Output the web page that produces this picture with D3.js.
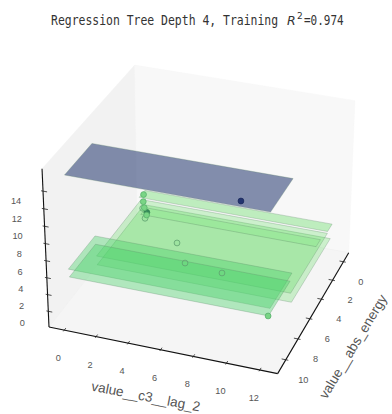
<!DOCTYPE html>
<html>
<head>
<meta charset="utf-8">
<script src="https://cdn.jsdelivr.net/npm/d3@7"></script>
<style>
body { margin: 0; background: #fff; }
text { font-family: "Liberation Sans", Arial, sans-serif; fill: #555; }
</style>
</head>
<body>
<div id="chart"></div>
<script>
var width = 392, height = 414;

// tree leaves, one flat plane per leaf
var planeNames = ["top", "strip", "mid1", "mid2", "band", "low1", "low2"];
var planeX0 = [6.74, 4.97, 4.70, 3.93, 4.61, 5.09, 5.10];
var planeX1 = [10.26, 5.75, 10.77, 10.40, 5.35, 8.67, 8.62];
var planeY0 = [-0.15, 2.29, 1.92, 1.76, 2.18, -0.95, -0.93];
var planeY1 = [12.08, 13.87, 13.52, 13.45, 13.08, 11.57, 11.47];
var planeZ = [15, 8.5, 7, 5.5, 6, 2, 1];

// training points that show only as rings
var ringX = [6.05, 5.53, 7.42, 8.35, 7.08];
var ringY = [2.77, 2.39, 5.37, 6.26, 8.01];
var ringZ = [6.5, 7, 6, 5, 3];

// training points drawn over the planes
var overX = [5.81, 5.69, 5.85, 6.11, 8.63];
var overY = [2.59, 2.51, 2.64, 2.90, 11.45];
var overZ = [9, 8, 7.5, 7, 1];

var topX = [9.73, 5.85], topY = [10.16, 2.80], topZ = [15, 7];

var xTicks = [0, 2, 4, 6, 8, 10];
var yTicks = [0, 2, 4, 6, 8, 10, 12];
var zTicks = [0, 2, 4, 6, 8, 10, 12, 14];

var xDomain = [-1, 11.3], yDomain = [-0.97, 13.06], zDomain = [-1.9, 16.5];

// box size and camera as in a matplotlib 3d axes, elev 30 azim 20
var boxX = 1.143, boxY = 1.143, boxZ = 0.8573, dist = 10;
var focal = 2088, centerX = 203.2, centerY = 212.9;

var x = d3.scaleLinear().domain(xDomain).range([-boxX / 2, boxX / 2]);
var y = d3.scaleLinear().domain(yDomain).range([-boxY / 2, boxY / 2]);
var z = d3.scaleLinear().domain(zDomain).range([-boxZ / 2, boxZ / 2]);

var elev = 30 * Math.PI / 180, azim = 20 * Math.PI / 180;
var n = [Math.cos(elev) * Math.cos(azim), Math.cos(elev) * Math.sin(azim), Math.sin(elev)];
var u = [-Math.sin(azim), Math.cos(azim), 0];
var v = [-n[2] * u[1], n[2] * u[0], n[0] * u[1] - n[1] * u[0]];

function dot(a, b) { return a[0] * b[0] + a[1] * b[1] + a[2] * b[2]; }

function project(px, py, pz) {
    var p = [x(px), y(py), z(pz)];
    var d = dist - dot(p, n);
    return [centerX + focal * dot(p, u) / d, centerY - focal * dot(p, v) / d];
}

var line = d3.line();

var svg = d3.select("#chart")
    .append("svg")
        .attr("width", width)
        .attr("height", height)
        .style("display", "block");

function poly(corners, fill, stroke, strokeWidth) {
    svg.append("path")
        .attr("d", line(corners) + "Z")
        .attr("fill", fill)
        .attr("stroke", stroke)
        .attr("stroke-width", strokeWidth);
}

var x0 = xDomain[0], x1 = xDomain[1], y0 = yDomain[0], y1 = yDomain[1], z0 = zDomain[0], z1 = zDomain[1];

// panes
poly([project(x0, y0, z0), project(x1, y0, z0), project(x1, y0, z1), project(x0, y0, z1)], "#f2f2f2", "#f2f2f2", 0.5);
poly([project(x0, y0, z0), project(x0, y1, z0), project(x0, y1, z1), project(x0, y0, z1)], "#f8f8f8", "#f6f6f6", 0.5);
poly([project(x0, y0, z0), project(x1, y0, z0), project(x1, y1, z0), project(x0, y1, z0)], "#f5f5f5", "#efefef", 0.6);

function plane(i, fill) {
    poly([
        project(planeX0[i], planeY0[i], planeZ[i]),
        project(planeX0[i], planeY1[i], planeZ[i]),
        project(planeX1[i], planeY1[i], planeZ[i]),
        project(planeX1[i], planeY0[i], planeZ[i])
    ], fill, "rgba(90,130,100,0.4)", 0.7);
}

function points(xs, ys, zs, fill, stroke) {
    svg.append("g").selectAll("circle")
        .data(xs)
        .join("circle")
            .attr("cx", function(d, i) { return project(xs[i], ys[i], zs[i])[0]; })
            .attr("cy", function(d, i) { return project(xs[i], ys[i], zs[i])[1]; })
            .attr("r", 2.9)
            .attr("fill", fill)
            .attr("stroke", stroke)
            .attr("stroke-width", 0.8);
}

plane(0, "rgba(32,52,110,0.55)");
points(topX, topY, topZ, "#23346f", "#1c2a5c");

plane(1, "rgba(72,217,72,0.33)");
[3, 2].forEach(function(i) { plane(i, "rgba(72,217,72,0.25)"); });
plane(4, "rgba(72,217,72,0.14)");
[5, 6].forEach(function(i) { plane(i, "rgba(72,210,105,0.4)"); });

points(ringX, ringY, ringZ, "rgba(120,220,130,0.2)", "#5f9f70");
points(overX, overY, overZ, "#79d585", "#58b06c");

// axes
function axisLine(a, b) {
    svg.append("path")
        .attr("d", line([a, b]))
        .attr("stroke", "#111")
        .attr("stroke-width", 1.1)
        .attr("fill", "none");
}
axisLine(project(x1, y0, z1), project(x1, y0, z0));
axisLine(project(x1, y0, z0), project(x1, y1, z0));
axisLine(project(x1, y1, z0), project(x0, y1, z0));

function tick(a, b) {
    svg.append("path")
        .attr("d", line([a, b]))
        .attr("stroke", "#222")
        .attr("stroke-width", 0.8);
}

function label(str, pos, dx, dy) {
    svg.append("text")
        .attr("x", pos[0] + dx)
        .attr("y", pos[1] + dy)
        .attr("text-anchor", "middle")
        .attr("font-size", 9.2)
        .text(str);
}

xTicks.forEach(function(d) {
    tick(project(d, y1 - 0.25, z0), project(d, y1 + 0.15, z0));
    label(d, project(d, y1, z0), 17.5, 23);
});
yTicks.forEach(function(d) {
    tick(project(x1 - 0.2, d, z0), project(x1 + 0.12, d, z0));
    label(d, project(x1, d, z0), -6, 31);
});
zTicks.forEach(function(d) {
    tick(project(x1, y0 - 0.12, d), project(x1, y0 + 0.25, d));
    label(d, project(x1, y0, d), d >= 10 ? -27 : -26, 15 - d * 0.18);
});

// axis titles
svg.append("text")
    .attr("transform", "translate(145,401) rotate(11)")
    .attr("text-anchor", "middle")
    .attr("font-size", 13.6)
    .text("value__c3__lag_2");

svg.append("text")
    .attr("transform", "translate(357,349) rotate(-59)")
    .attr("text-anchor", "middle")
    .attr("font-size", 13.6)
    .text("value__abs_energy");

// title, the r squared part is in a math font in the original
var title = svg.append("g");
title.append("text")
    .attr("transform", "translate(51,25) scale(1,1.2)")
    .attr("font-size", 11.45)
    .style("font-family", "'DejaVu Sans Mono', monospace")
    .style("fill", "#333")
    .text("Regression Tree Depth 4, Training");
title.append("text")
    .attr("x", 287).attr("y", 25)
    .attr("font-size", 12.5)
    .style("font-family", "'DejaVu Sans'")
    .style("font-style", "italic")
    .style("fill", "#333")
    .text("R");
title.append("text")
    .attr("x", 297).attr("y", 19)
    .attr("font-size", 9)
    .style("font-family", "'DejaVu Sans'")
    .style("fill", "#333")
    .text("2");
title.append("text")
    .attr("transform", "translate(304,25) scale(1,1.2)")
    .attr("font-size", 11)
    .style("font-family", "'DejaVu Sans Mono', monospace")
    .style("fill", "#333")
    .text("=0.974");
</script>
</body>
</html>
